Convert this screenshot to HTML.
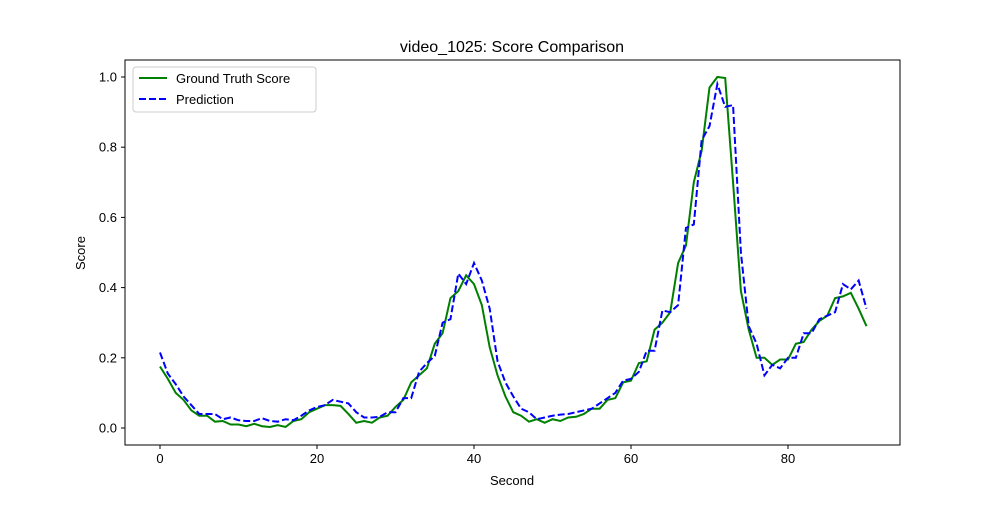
<!DOCTYPE html>
<html><head><meta charset="utf-8"><style>body{margin:0;background:#fff}svg{font-family:"Liberation Sans","DejaVu Sans",sans-serif}</style></head>
<body>
<svg id="chart" width="1000" height="500"></svg>
<script>
const gtScores=[0.175,0.14,0.10,0.08,0.05,0.035,0.035,0.018,0.02,0.01,0.01,0.005,0.012,0.005,0.003,0.008,0.003,0.02,0.025,0.045,0.055,0.065,0.065,0.063,0.04,0.015,0.02,0.015,0.03,0.035,0.06,0.08,0.13,0.15,0.17,0.24,0.27,0.37,0.39,0.435,0.41,0.35,0.23,0.15,0.09,0.045,0.035,0.018,0.025,0.015,0.025,0.02,0.03,0.032,0.04,0.055,0.055,0.08,0.085,0.13,0.135,0.185,0.19,0.28,0.30,0.33,0.47,0.52,0.70,0.79,0.97,1.0,0.997,0.70,0.39,0.28,0.20,0.20,0.18,0.195,0.195,0.24,0.245,0.28,0.305,0.32,0.37,0.375,0.385,0.34,0.29];
const predScores=[0.215,0.155,0.125,0.09,0.065,0.04,0.04,0.04,0.025,0.03,0.022,0.02,0.02,0.028,0.02,0.018,0.025,0.022,0.035,0.05,0.06,0.065,0.08,0.075,0.07,0.045,0.03,0.03,0.032,0.045,0.045,0.085,0.085,0.16,0.185,0.205,0.30,0.31,0.44,0.41,0.47,0.42,0.34,0.19,0.13,0.09,0.055,0.045,0.025,0.03,0.035,0.038,0.04,0.045,0.05,0.055,0.07,0.085,0.10,0.135,0.14,0.16,0.22,0.22,0.335,0.33,0.35,0.57,0.58,0.82,0.86,0.98,0.915,0.92,0.50,0.29,0.24,0.15,0.18,0.17,0.20,0.20,0.27,0.27,0.31,0.32,0.33,0.41,0.395,0.42,0.34];
const xTicks=[0,20,40,60,80];
const yTicks=[0.0,0.2,0.4,0.6,0.8,1.0];
const NS="http://www.w3.org/2000/svg";
const svg=document.getElementById('chart');
const L=125,R=900,T=60,B=445;
const xs=v=>160+v*(788-160)/80;
const ys=v=>428-v*351;
function mk(tag,attrs,parent){const e=document.createElementNS(NS,tag);for(const k in attrs)e.setAttribute(k,attrs[k]);(parent||svg).appendChild(e);return e;}
const frame=mk('rect',{x:L,y:T,width:R-L,height:B-T,fill:'none',stroke:'#000','stroke-width':1});


xTicks.forEach(t=>{
  const ln=mk('line',{x1:xs(t),x2:xs(t),y1:B,y2:B+4,stroke:'#000'});
  
  
  const tx=mk('text',{x:xs(t),y:B+18,'font-size':13,'text-anchor':'middle'});tx.textContent=t;
  
  
});
yTicks.forEach(t=>{
  const ln=mk('line',{x1:L-4,x2:L,y1:ys(t),y2:ys(t),stroke:'#000'});
  
  
  const tx=mk('text',{x:L-8,y:ys(t)+4.5,'font-size':13,'text-anchor':'end'});tx.textContent=t.toFixed(1);
  
  
});
function line(data,color,dash,name){
  const p=mk('polyline',{points:data.map((v,i)=>xs(i)+','+ys(v)).join(' '),fill:'none',stroke:color,'stroke-width':2,'stroke-dasharray':dash||'none'});
  
  
}
line(gtScores,'#008000',null,'ground-truth-line');
line(predScores,'#0000ff','7,3','prediction-line');
const title=mk('text',{x:512,y:52,'font-size':16,'text-anchor':'middle'});title.textContent='video_1025: Score Comparison';


const xl=mk('text',{x:512,y:485,'font-size':13,'text-anchor':'middle'});xl.textContent='Second';


const yl=mk('text',{x:85,y:253,'font-size':13,'text-anchor':'middle',transform:'rotate(-90 85 253)'});yl.textContent='Score';


const lg=mk('g',{});


mk('rect',{x:133,y:67,width:183,height:45,rx:3,fill:'#fff',stroke:'#ccc'},lg);
mk('line',{x1:139,x2:167,y1:78,y2:78,stroke:'#008000','stroke-width':2},lg);
mk('line',{x1:139,x2:167,y1:99,y2:99,stroke:'#0000ff','stroke-width':2,'stroke-dasharray':'7,3'},lg);
const l1=mk('text',{x:176,y:83,'font-size':13},lg);l1.textContent='Ground Truth Score';


const l2=mk('text',{x:176,y:104,'font-size':13},lg);l2.textContent='Prediction';


</script>
</body></html>
